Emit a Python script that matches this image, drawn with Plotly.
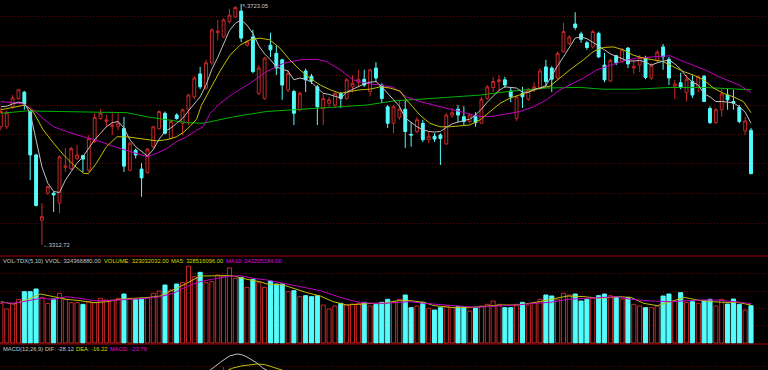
import plotly.graph_objects as go

# ---------------- data ----------------
idx = list(range(129))
opens = [3514,3514,3548,3562,3573,3540,3466,3355,3401,3401,3384,3445,3443,3460,3465,3440,3489,3528,3523,3514,
         3514,3511,3440,3474,3442,3436,3480,3511,3537,3494,3534,3520,3543,3565,3604,3580,3623,3674,3667,3693,
         3701,3711,3653,3667,3571,3562,3653,3639,3628,3577,3574,3543,3609,3600,3582,3545,3554,3551,3571,3562,
         3582,3590,3595,3574,3614,3585,3548,3520,3530,3544,3501,3506,3520,3492,3498,3500,3485,3534,3544,3531,
         3523,3531,3520,3562,3581,3591,3594,3575,3528,3571,3561,3577,3580,3616,3614,3597,3642,3656,3689,3672,
         3657,3650,3673,3619,3592,3635,3625,3648,3614,3619,3632,3597,3627,3650,3629,3583,3589,3572,3591,3581,
         3600,3545,3521,3543,3568,3557,3547,3507,3508]
highs = [3546,3542,3568,3578,3575,3542,3468,3384,3414,3404,3465,3478,3480,3483,3466,3500,3537,3544,3534,3540,
         3537,3531,3488,3477,3452,3478,3516,3542,3540,3526,3537,3545,3570,3600,3616,3628,3682,3696,3699,3715,
         3720,3723.05,3662,3679,3619,3633,3674,3653,3630,3611,3577,3574,3613,3604,3585,3571,3565,3573,3573,3597,
         3602,3611,3611,3613,3624,3588,3551,3551,3560,3560,3522,3531,3526,3505,3503,3503,3537,3546,3551,3549,
         3537,3539,3565,3585,3599,3602,3599,3580,3568,3582,3580,3590,3613,3628,3617,3642,3691,3670,3709,3676,
         3660,3679,3676,3640,3630,3636,3648,3650,3628,3636,3635,3622,3645,3655,3633,3594,3606,3602,3602,3602,
         3602,3549,3546,3580,3580,3577,3551,3531,3512]
lows = [3508,3510,3545,3560,3543,3423,3378,3312.72,3398,3369,3367,3437,3440,3457,3437,3437,3486,3526,3514,3500,
        3508,3437,3438,3460,3395,3434,3478,3509,3501,3492,3526,3500,3517,3561,3578,3577,3619,3662,3665,3690,
        3699,3658,3650,3605,3568,3560,3633,3602,3560,3573,3517,3540,3573,3587,3517,3517,3548,3546,3546,3560,
        3573,3582,3582,3566,3590,3555,3512,3503,3526,3478,3480,3503,3488,3486,3488,3449,3483,3529,3522,3517,
        3520,3514,3519,3560,3573,3573,3580,3556,3524,3546,3558,3573,3577,3582,3573,3594,3640,3653,3679,3657,
        3645,3647,3631,3590,3590,3619,3622,3614,3604,3607,3595,3594,3624,3611,3585,3561,3578,3557,3563,3573,
        3556,3519,3519,3531,3543,3543,3520,3500,3434]
closes = [3540,3538,3563,3577,3553,3466,3380,3361,3412,3398,3463,3447,3477,3466,3459,3494,3530,3537,3526,3517,
          3520,3447,3486,3466,3427,3476,3514,3540,3503,3523,3528,3543,3568,3597,3582,3623,3679,3677,3696,3704,
          3717,3665,3659,3608,3614,3631,3645,3614,3585,3605,3537,3571,3594,3592,3548,3562,3560,3571,3562,3594,
          3588,3595,3585,3611,3597,3562,3520,3548,3544,3506,3500,3526,3492,3498,3493,3494,3534,3538,3534,3523,
          3534,3521,3561,3582,3591,3594,3585,3565,3565,3565,3578,3582,3609,3591,3595,3639,3676,3667,3683,3663,
          3649,3676,3633,3594,3627,3623,3645,3621,3617,3632,3598,3619,3641,3633,3597,3587,3581,3595,3568,3599,
          3557,3521,3543,3570,3560,3554,3523,3524,3434]
# volume, millions of shares
vol_m = [343.5,294.4,343.5,378.2,444.5,444.5,467.6,395.5,343.5,381.0,430.1,378.2,349.3,349.3,334.9,357.9,349.3,386.8,372.4,372.4,
         386.8,424.3,386.8,378.2,386.8,395.5,430.1,450.3,502.3,459.0,510.9,525.4,665.0,574.4,612.0,522.5,531.1,588.9,580.2,650.0,
         560.0,568.7,482.1,551.4,522.5,482.1,536.9,510.9,510.9,444.5,453.0,401.2,409.9,401.2,409.9,329.1,294.4,320.4,343.5,329.1,
         337.7,343.5,352.2,320.4,334.9,352.2,378.2,357.9,378.2,415.7,306.0,320.4,352.2,300.2,285.8,306.0,320.4,306.0,314.6,314.6,
         277.1,306.0,320.4,334.9,363.7,334.9,306.0,306.0,334.9,352.2,329.1,352.2,378.2,415.7,407.0,378.2,430.1,415.7,424.3,363.7,
         378.2,386.8,409.9,424.3,409.9,395.5,381.0,392.6,334.9,320.4,306.0,306.0,320.4,407.0,424.3,363.7,435.9,352.2,357.9,343.5,
         366.6,378.2,320.4,378.2,337.7,381.0,334.9,285.8,323.0]

# price moving averages
ma5 = [3548,3549,3553,3556,3554,3537,3492,3446,3418,3404,3402,3423,3438,3452,3463,3478,3492,3503,3514,3521,
       3523,3512,3492,3480,3472,3464,3475,3493,3506,3512,3520,3528,3541,3554,3565,3585,3612,3632,3655,3678,
       3690,3696,3687,3673,3652,3638,3628,3616,3612,3609,3594,3597,3595,3590,3580,3571,3569,3566,3563,3573,
       3578,3582,3587,3590,3591,3582,3571,3561,3549,3529,3522,3514,3509,3506,3505,3506,3513,3519,3522,3525,
       3527,3534,3544,3556,3566,3576,3582,3581,3580,3573,3573,3578,3580,3584,3602,3618,3633,3650,3665,3667,
       3664,3658,3652,3645,3638,3634,3629,3626,3626,3627,3624,3619,3623,3625,3628,3621,3612,3599,3590,3585,
       3570,3565,3557,3557,3556,3555,3548,3539,3520]
ma10_x = [0,4.1,5.5,7.2,9,10.7,12.4,14.1,14.9,16.3,18,19.8,21.5,23.2,24.9,26.6,28.3,30,31.2,32.3,33.4,34.2,35.7,
          37.4,39.1,40.8,42.5,44.2,45.9,47.6,49.3,51,52.7,54.5,56.2,57.9,59.6,61.3,63,64.7,66.4,68.1,69.2,71.5,
          73.2,74.9,76.6,78.3,80,81.8,83.5,85.2,86.9,88.6,90.3,92,93.7,95.4,97.1,99.4,101.1,102.8,104.5,106.2,
          107.9,109.6,111.3,113,114.8,116.5,118.2,119.9,121.6,123.3,125,126.7,128]
ma10_v = [3543,3551,3540,3509,3486,3466,3449,3435,3434,3452,3480,3497,3497,3495,3492,3490,3492,3497,3505,3515,
          3527,3550,3578,3609,3636,3653,3662,3665,3662,3648,3628,3611,3597,3585,3577,3571,3574,3577,3578,3582,
          3580,3575,3560,3534,3520,3514,3514,3515,3517,3526,3540,3554,3563,3568,3574,3580,3583,3597,3611,3628,
          3642,3649,3650,3645,3636,3631,3628,3625,3616,3608,3602,3594,3580,3571,3565,3557,3538]
ma20_x = [0,3.8,5.5,7.2,9,11.2,14.1,16.9,20,22.6,25,26.6,28.3,30,31.7,33.4,34.5,35.7,37.4,39.7,42.5,45.3,48.2,
          51,53.9,55.6,57.9,60.1,62.4,64.7,67,69.2,71.5,73.8,76,78.3,80.6,82.3,84,86.3,88.6,90.9,93.1,95.4,97.4,
          99.4,101.7,104,106.2,108.5,110.8,113,114.2,116.5,118.7,120.4,122.1,124.3,126,128]
ma20_v = [3557,3553,3543,3528,3514,3506,3497,3489,3478,3470,3463,3469,3477,3489,3497,3508,3514,3537,3554,3571,
          3588,3608,3622,3628,3629,3625,3611,3594,3588,3585,3581,3565,3557,3551,3546,3540,3534,3531,3532,3536,
          3540,3548,3560,3577,3587,3597,3611,3619,3626,3631,3633,3635,3635,3625,3616,3610,3601,3592,3585,3572]
ma60_x = [0,4.4,10,17,21.5,25,28.3,31.7,34.5,37.4,39.7,45.3,51,56.7,62.4,67,70.4,76,81.8,87.4,93.1,98.8,102.8,
          108.5,114.2,119.9,128]
ma60_v = [3537,3541,3540,3539,3538,3531,3526,3521,3520,3526,3531,3540,3544,3547,3551,3558,3560,3564,3568,3575,
          3580,3581,3578,3578,3581,3581,3577]

# volume moving averages (millions)
vma5_x = [0,2.1,4.4,6.7,9,11.2,13.5,15.8,18.1,20.3,22.6,24.9,27.2,29.4,31.7,34,36.3,38.5,39.7,42,44.2,45.4,48.2,
          49.9,52.2,54.5,56.7,59,61.3,63.6,65.4,67.7,69.9,72.2,73.9,76.7,79.6,82.4,85.3,88.1,91,93.8,96.7,99.5,
          102.3,105.2,107.5,109.7,112,114.3,116.6,118.8,121.1,123.4,125.7,128]
vma5_v = [357.9,337.7,372.4,424.3,401.2,378.2,366.6,349.3,357.9,378.2,386.8,392.6,407.0,459.0,516.7,580.2,583.1,
          583.1,580.2,551.4,531.1,510.9,502.3,473.4,435.9,407.0,357.9,329.1,337.7,343.5,343.5,366.6,366.6,352.2,
          323.3,308.9,306.0,314.6,329.1,329.1,349.3,378.2,407.0,401.2,386.8,401.2,395.5,343.5,323.3,357.9,395.5,
          372.4,357.9,352.2,352.2,328.5]
vma10_x = [0,2.1,4.4,6.7,9,11.2,13.5,15.8,18.1,20.3,22.6,24.9,27.2,29.4,31.7,34,36.3,38.5,40.8,43.1,45.4,47.6,
           49.9,52.2,54.5,56.7,59,61.3,63.6,65.4,67.7,69.9,72.2,76.7,81.1,84.7,88.1,91,93.8,96.7,99.5,102.3,105.2,
           107.5,110.9,114.3,116.6,119.4,122.2,125,128]
vma10_v = [352.2,343.5,363.7,386.8,378.2,401.2,386.8,366.6,366.6,372.4,378.2,386.8,401.2,430.1,487.9,531.1,554.2,
           574.4,583.1,560.0,545.6,522.5,502.3,473.4,453.2,415.7,378.2,352.2,343.5,343.5,352.2,357.9,343.5,323.3,
           308.9,320.4,329.1,343.5,352.2,378.2,386.8,395.5,401.2,378.2,363.7,357.9,363.7,372.4,372.4,357.9,342.2]

# MACD (only the top of the hump is inside the visible window)
macd_x = [34.5,35.5,36.2,37.5,39,40.3,41,42,43,43.7,44.7,45.5,46.5]
dif_v = [17,21,24,30,36,38,37.5,35,31.5,29,24,21,18]
dea_x = [37.5,39,39.6,41,42,43.7,45,45.9,47.6,48.5,49.5]
dea_v = [18,22,24,26,27,28,27.5,26,23,21,19]
macdbar_x = [36,37,38,39,40,41]
macdbar_v = [19,21.5,25,24.5,21,18]

# ---------------- styling ----------------
RED = "#c82828"
CYAN = "#54fcfc"
GRID = "#700000"
SEP = "#a00000"
C5 = "#c0c0c0"
C10 = "#c0c000"
C20 = "#c000c0"
C60 = "#00b400"
FONT = "Liberation Sans"

up = [c >= o for o, c in zip(opens, closes)]
vol = [v * 1e6 for v in vol_m]

fig = go.Figure()

# volume bars
fig.add_trace(go.Bar(
    x=idx, y=vol, yaxis="y2", width=0.7,
    marker=dict(color=["#000000" if u else CYAN for u in up],
                line=dict(color=[RED if u else CYAN for u in up], width=1)),
    hoverinfo="skip", showlegend=False))
fig.add_trace(go.Scatter(x=vma5_x, y=[v * 1e6 for v in vma5_v], yaxis="y2", mode="lines",
                         line=dict(color=C10, width=1), hoverinfo="skip", showlegend=False))
fig.add_trace(go.Scatter(x=vma10_x, y=[v * 1e6 for v in vma10_v], yaxis="y2", mode="lines",
                         line=dict(color=C20, width=1), hoverinfo="skip", showlegend=False))

# MACD
fig.add_trace(go.Bar(x=macdbar_x, y=macdbar_v, yaxis="y3", width=0.15,
                     marker=dict(color=RED, line=dict(width=0)), hoverinfo="skip", showlegend=False))
fig.add_trace(go.Scatter(x=macd_x, y=dif_v, yaxis="y3", mode="lines",
                         line=dict(color=C5, width=1), hoverinfo="skip", showlegend=False))
fig.add_trace(go.Scatter(x=dea_x, y=dea_v, yaxis="y3", mode="lines",
                         line=dict(color=C10, width=1), hoverinfo="skip", showlegend=False))

# price candles
fig.add_trace(go.Candlestick(
    x=idx, open=opens, high=highs, low=lows, close=closes, yaxis="y",
    increasing=dict(line=dict(color=RED, width=1), fillcolor="#000000"),
    decreasing=dict(line=dict(color=CYAN, width=1), fillcolor=CYAN),
    whiskerwidth=0, hoverinfo="skip", showlegend=False))

# price MAs
fig.add_trace(go.Scatter(x=ma60_x, y=ma60_v, mode="lines", line=dict(color=C60, width=1),
                         hoverinfo="skip", showlegend=False))
fig.add_trace(go.Scatter(x=ma20_x, y=ma20_v, mode="lines", line=dict(color=C20, width=1),
                         hoverinfo="skip", showlegend=False))
fig.add_trace(go.Scatter(x=ma10_x, y=ma10_v, mode="lines", line=dict(color=C10, width=1),
                         hoverinfo="skip", showlegend=False))
fig.add_trace(go.Scatter(x=idx, y=ma5, mode="lines", line=dict(color=C5, width=1),
                         hoverinfo="skip", showlegend=False))

H = 370.0
main_bot = 1 - 256 / H
vol_bot = 1 - 344 / H

axis_common = dict(showticklabels=False, zeroline=False, showline=False, ticks="",
                   gridcolor=GRID, griddash="1px,2px", gridwidth=1, fixedrange=True)

fig.update_layout(
    width=768, height=370,
    margin=dict(l=0, r=0, t=0, b=0),
    paper_bgcolor="#000000", plot_bgcolor="#000000",
    boxgap=0.3, barmode="overlay",
    xaxis=dict(range=[-0.154, 130.9], showgrid=False, showticklabels=False, zeroline=False,
               showline=False, ticks="", rangeslider=dict(visible=False), fixedrange=True),
    yaxis=dict(domain=[main_bot, 1], range=[3294.0, 3729.86],
               tickvals=[3702, 3652, 3602, 3551, 3501, 3451, 3400, 3350], showgrid=True, **axis_common),
    yaxis2=dict(domain=[vol_bot, main_bot], range=[-8.66e6, 753.4e6],
                tickvals=[150e6, 300e6, 450e6, 600e6], showgrid=True, **axis_common),
    yaxis3=dict(domain=[0, vol_bot], range=[22, 48], tickvals=[26], showgrid=True, **axis_common),
    showlegend=False,
)

# panel separators
for yy in (main_bot, vol_bot):
    fig.add_shape(type="line", xref="paper", yref="paper", x0=0, x1=1, y0=yy, y1=yy,
                  line=dict(color=SEP, width=1))

def label(px, py, text, color):
    fig.add_annotation(x=px / 768, y=1 - py / H, xref="paper", yref="paper", text=text,
                       showarrow=False, xanchor="left", yanchor="middle",
                       font=dict(family=FONT, size=5.8, color=color))

label(1, 260.5, "VOL-TDX(5,10) VVOL: 324366880.00", "#c8c8c8")
label(101.5, 260.5, "VOLUME: 323032032.00", "#d8d800")
label(169.3, 260.5, "MA5: 328516096.00", "#d8d800")
label(224, 260.5, "MA10: 342205184.00", "#e000e0")
label(1, 348.7, "MACD(12,26,9) DIF: -28.12", "#c8c8c8")
label(74, 348.7, "DEA: -16.22", "#d8d800")
label(107.7, 348.7, "MACD: -23.79", "#e000e0")

# high / low markers
fig.add_annotation(x=41, y=3723.05, xref="x", yref="y", text="↖3723.05", showarrow=False,
                   xanchor="left", yanchor="top", xshift=-1, yshift=3,
                   font=dict(family=FONT, size=5.8, color="#c8c8c8"))
fig.add_annotation(x=7, y=3312.72, xref="x", yref="y", text="←3312.72", showarrow=False,
                   xanchor="left", yanchor="middle", xshift=-1,
                   font=dict(family=FONT, size=5.8, color="#c8c8c8"))

fig.write_html("out.html", config={"displayModeBar": False, "staticPlot": True},
               post_script="document.body.style.margin='0';document.body.style.background='#000';")
